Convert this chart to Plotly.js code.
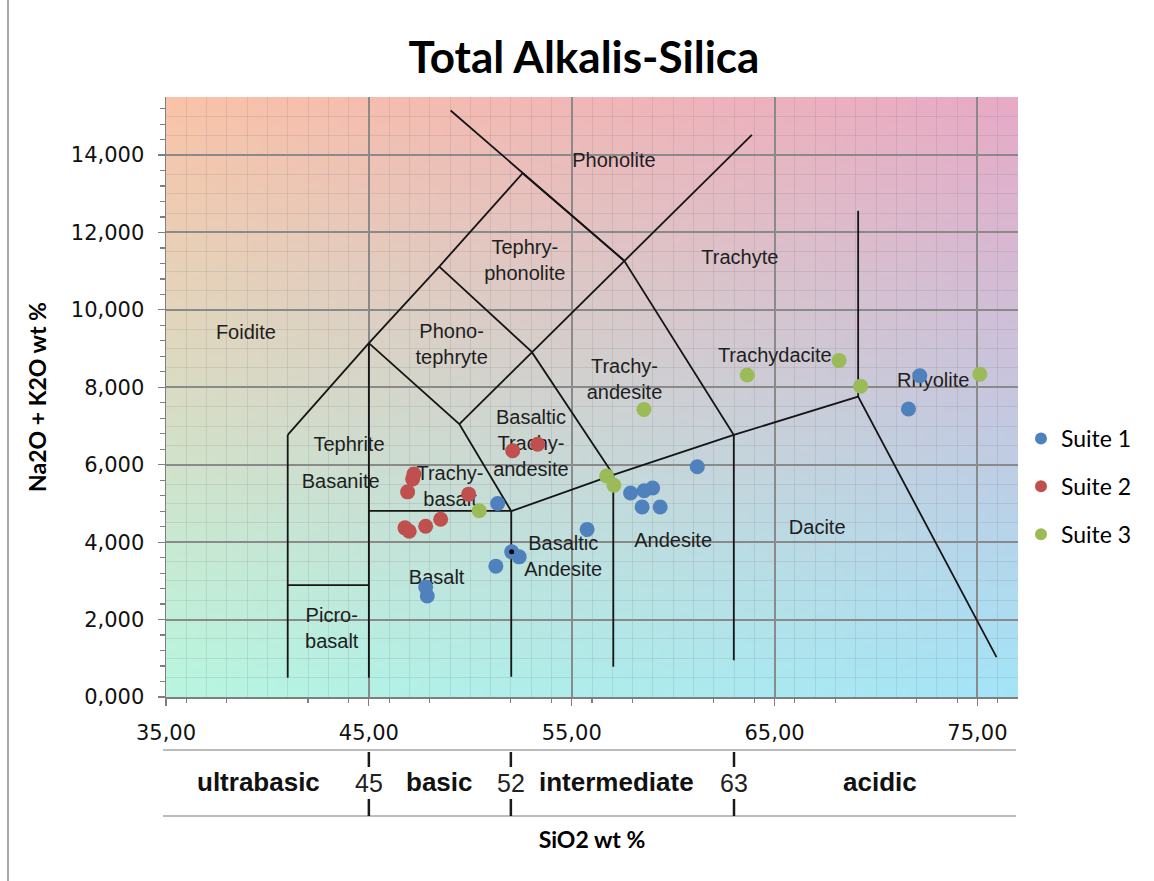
<!DOCTYPE html>
<html>
<head>
<meta charset="utf-8">
<script src="https://cdn.plot.ly/plotly-3.0.1.min.js"></script>
<style>
  html, body { margin: 0; padding: 0; background: #ffffff; }
  #chart { width: 1154px; height: 881px; }
</style>
</head>
<body>
<div id="chart"></div>
<script>
// ---- Sample analyses: SiO2 (wt %) vs Na2O + K2O (wt %) ----
const suite1Si = [51.35, 52.04, 52.41, 51.26, 47.80, 47.88, 55.76, 57.90, 58.57, 58.99, 58.47, 59.36, 61.19, 72.16, 71.60];
const suite1Alk = [5.00, 3.75, 3.62, 3.38, 2.84, 2.61, 4.33, 5.27, 5.33, 5.40, 4.91, 4.91, 5.95, 8.30, 7.44];

const suite2Si = [47.22, 47.16, 46.91, 49.92, 48.54, 47.80, 46.78, 46.99, 52.09, 53.32];
const suite2Alk = [5.76, 5.63, 5.30, 5.24, 4.59, 4.41, 4.37, 4.28, 6.36, 6.53];

const suite3Si = [50.44, 56.72, 57.08, 58.56, 63.65, 68.18, 69.24, 75.12];
const suite3Alk = [4.81, 5.71, 5.47, 7.43, 8.32, 8.69, 8.03, 8.34];

// small black marker sitting on one of the Suite 1 analyses
const markedSi = [52.04];
const markedAlk = [3.75];

const suiteNames = ['Suite 1', 'Suite 2', 'Suite 3'];
const suiteColors = ['#4F81BD', '#C0504D', '#9BBB59'];

// ---- TAS field boundaries (polylines, SiO2 / total alkalis) ----
const boundarySi = [
  [41, 41],
  [41, 45],
  [45, 45],
  [41, 45, 48.47, 52.58, 57.59],
  [49.03, 57.59, 62.99, 62.99],
  [48.47, 53.02, 57.05, 57.05],
  [45, 49.46, 52.02, 52.02],
  [45, 52.02],
  [49.46, 63.88],
  [52.02, 57.05, 62.99, 69.12, 75.94],
  [69.12, 69.12]
];
const boundaryAlk = [
  [0.5, 6.77],
  [2.89, 2.89],
  [0.5, 9.14],
  [6.77, 9.14, 11.12, 13.53, 11.27],
  [15.15, 11.27, 6.77, 0.95],
  [11.12, 8.92, 5.74, 0.78],
  [9.14, 7.05, 4.80, 0.52],
  [4.81, 4.81],
  [7.05, 14.52],
  [4.80, 5.74, 6.77, 7.76, 1.03],
  [7.76, 12.56]
];

// ---- Field names and where they sit ----
const fieldNames = ['Phonolite', 'Tephry-<br>phonolite', 'Trachyte', 'Foidite', 'Phono-<br>tephryte',
  'Trachy-<br>andesite', 'Trachydacite', 'Rhyolite', 'Tephrite', 'Basanite',
  'Basaltic<br>Trachy-<br>andesite', 'Trachy-<br>basalt', 'Basaltic<br>Andesite', 'Basalt',
  'Andesite', 'Dacite', 'Picro-<br>basalt'];
const fieldSi = [57.08, 52.69, 63.29, 38.94, 49.08, 57.60, 65.01, 72.82, 44.02, 43.61,
  52.99, 49.00, 54.58, 48.34, 60.00, 67.10, 43.17];
const fieldAlk = [13.82, 11.24, 11.31, 9.38, 9.07, 8.16, 8.79, 8.14, 6.49, 5.52,
  6.51, 5.39, 3.60, 3.06, 4.01, 4.35, 1.72];

// ---- Axis ticks ----
const xTickVals = [35, 45, 55, 65, 75];
const xTickText = ['35,00', '45,00', '55,00', '65,00', '75,00'];
const yTickVals = [0, 2, 4, 6, 8, 10, 12, 14];
const yTickText = ['0,000', '2,000', '4,000', '6,000', '8,000', '10,000', '12,000', '14,000'];

// ---- Silica classes shown under the axis ----
const silicaClasses = ['ultrabasic', 'basic', 'intermediate', 'acidic'];
const silicaBounds = [45, 52, 63];

const xRange = [35, 77];
const yRange = [0, 15.5];

// four-corner colour wash behind the diagram
function cornerWash(tl, tr, bl, br) {
  const n = 96;
  const c = document.createElement('canvas');
  c.width = n; c.height = n;
  const ctx = c.getContext('2d');
  const img = ctx.createImageData(n, n);
  for (let j = 0; j < n; j++) {
    const v = j / (n - 1);
    for (let i = 0; i < n; i++) {
      const u = i / (n - 1);
      const k = (j * n + i) * 4;
      for (let ch = 0; ch < 3; ch++) {
        const top = tl[ch] * (1 - u) + tr[ch] * u;
        const bot = bl[ch] * (1 - u) + br[ch] * u;
        img.data[k + ch] = Math.round(top * (1 - v) + bot * v);
      }
      img.data[k + 3] = 255;
    }
  }
  ctx.putImageData(img, 0, 0);
  return c.toDataURL('image/png');
}

const traces = [];

// field names (drawn first so the analyses sit on top)
traces.push({
  type: 'scatter', mode: 'text', x: fieldSi, y: fieldAlk, text: fieldNames,
  textposition: 'middle center',
  textfont: { family: 'Liberation Sans, Arial, sans-serif', size: 20, color: '#1e1e1e' },
  hoverinfo: 'skip', showlegend: false, cliponaxis: false
});

// field boundaries
boundarySi.forEach((xs, i) => {
  traces.push({
    type: 'scatter', mode: 'lines', x: xs, y: boundaryAlk[i],
    line: { color: '#151515', width: 1.8 },
    hoverinfo: 'skip', showlegend: false
  });
});

// analyses
const suiteSi = [suite1Si, suite2Si, suite3Si];
const suiteAlk = [suite1Alk, suite2Alk, suite3Alk];
suiteNames.forEach((name, i) => {
  traces.push({
    type: 'scatter', mode: 'markers', name: name, x: suiteSi[i], y: suiteAlk[i],
    legendgroup: 'g' + i,
    marker: { color: suiteColors[i], size: 15, line: { width: 0 } }
  });
});

traces.push({
  type: 'scatter', mode: 'markers', x: markedSi, y: markedAlk,
  marker: { color: '#000000', size: 5 }, showlegend: false, hoverinfo: 'skip'
});

// carrier for the minor-tick axes
traces.push({
  type: 'scatter', mode: 'markers', x: [xRange[0]], y: [yRange[0]], xaxis: 'x2', yaxis: 'y2',
  marker: { opacity: 0 }, showlegend: false, hoverinfo: 'skip'
});

const L = 166, R = 1018, T = 97, B = 697;
const plotW = R - L, plotH = B - T;
const py = p => (B - p) / plotH;   // pixel row -> paper y
const px = p => (p - L) / plotW;   // pixel column -> paper x

const shapes = [];
const annotations = [];

// strip rules
[750, 816].forEach(r => {
  shapes.push({ type: 'line', xref: 'paper', yref: 'paper', x0: px(163), x1: px(1016), y0: py(r), y1: py(r),
    line: { color: '#a6a6a6', width: 1.5 } });
});
silicaBounds.forEach(b => {
  shapes.push({ type: 'line', xref: 'x', yref: 'paper', x0: b, x1: b, y0: py(752), y1: py(767),
    line: { color: '#1a1a1a', width: 2.5 } });
  shapes.push({ type: 'line', xref: 'x', yref: 'paper', x0: b, x1: b, y0: py(799), y1: py(816),
    line: { color: '#1a1a1a', width: 2.5 } });
  annotations.push({ xref: 'x', yref: 'paper', x: b, y: py(783), text: String(b), showarrow: false,
    xanchor: 'center', yanchor: 'middle',
    font: { family: 'Liberation Sans, Arial, sans-serif', size: 25, color: '#222' } });
});
const edges = [xRange[0]].concat(silicaBounds, [xRange[1]]);
const classShift = [-0.45, 0, -0.3, 0.2];
silicaClasses.forEach((name, i) => {
  annotations.push({ xref: 'x', yref: 'paper', x: (edges[i] + edges[i + 1]) / 2 + classShift[i], y: py(782),
    text: '<b>' + name + '</b>', showarrow: false, xanchor: 'center', yanchor: 'middle',
    font: { family: 'Liberation Sans, Arial, sans-serif', size: 26, color: '#111' } });
});

// outer frame edge on the left
shapes.push({ type: 'line', xref: 'paper', yref: 'paper', x0: px(8), x1: px(8), y0: py(0), y1: py(881),
  line: { color: '#8c8c8c', width: 1.5 } });

const layout = {
  width: 1154, height: 881,
  margin: { l: L, r: 1154 - R, t: T, b: 881 - B },
  paper_bgcolor: '#ffffff',
  plot_bgcolor: 'rgba(0,0,0,0)',
  showlegend: true,
  title: {
    text: '<b>Total Alkalis-Silica</b>',
    font: { family: 'Lato, sans-serif', size: 44, color: '#000' },
    xref: 'container', yref: 'container', x: 584 / 1154, y: 1 - 58 / 881,
    xanchor: 'center', yanchor: 'middle'
  },
  xaxis: {
    range: xRange, tickvals: xTickVals, ticktext: xTickText,
    showgrid: true, gridcolor: '#8a8a8a', gridwidth: 2,
    showline: true, linecolor: '#7f7f7f', linewidth: 1.5,
    ticks: 'outside', ticklen: 7, tickcolor: '#7f7f7f', tickwidth: 1.2,
    ticklabelstandoff: 9,
    tickfont: { family: 'DejaVu Sans, sans-serif', size: 21, color: '#111' },
    zeroline: false, fixedrange: true,
    minor: { dtick: 1, showgrid: true, gridcolor: 'rgba(110,110,110,0.16)', gridwidth: 1, ticks: '' },
    title: { text: '<b>SiO2 wt %</b>', font: { family: 'Lato, sans-serif', size: 23, color: '#000' }, standoff: 88 }
  },
  yaxis: {
    range: yRange, tickvals: yTickVals, ticktext: yTickText,
    showgrid: true, gridcolor: '#8a8a8a', gridwidth: 2,
    showline: true, linecolor: '#7f7f7f', linewidth: 1.5,
    ticks: 'outside', ticklen: 7, tickcolor: '#7f7f7f', tickwidth: 1.2,
    ticklabelstandoff: 9,
    tickfont: { family: 'DejaVu Sans, sans-serif', size: 21, color: '#111' },
    zeroline: false, fixedrange: true,
    minor: { dtick: 0.5, showgrid: true, gridcolor: 'rgba(110,110,110,0.16)', gridwidth: 1, ticks: '' },
    title: { text: '<b>Na2O + K2O wt %</b>', font: { family: 'Lato, sans-serif', size: 23, color: '#000' }, standoff: 18 }
  },
  xaxis2: {
    overlaying: 'x', anchor: 'y2', side: 'bottom', range: xRange, showgrid: false, zeroline: false,
    showticklabels: false, ticks: '', dtick: 10, fixedrange: true,
    minor: { dtick: 2, ticks: 'outside', ticklen: 5, tickcolor: '#7f7f7f', tickwidth: 1.2, showgrid: false }
  },
  yaxis2: {
    overlaying: 'y', anchor: 'x2', side: 'left', range: yRange, showgrid: false, zeroline: false,
    showticklabels: false, ticks: '', dtick: 2, fixedrange: true,
    minor: { dtick: 0.4, ticks: 'outside', ticklen: 5, tickcolor: '#7f7f7f', tickwidth: 1.2, showgrid: false }
  },
  legend: {
    x: px(1021), y: py(417), xanchor: 'left', yanchor: 'top',
    bgcolor: 'rgba(0,0,0,0)', borderwidth: 0,
    font: { family: 'Lato, sans-serif', size: 23, color: '#000' },
    itemsizing: 'constant', tracegroupgap: 15
  },
  images: [{
    source: cornerWash([250, 195, 168], [232, 170, 198], [184, 246, 224], [164, 228, 248]),
    xref: 'x', yref: 'y', x: xRange[0], y: yRange[1], sizex: xRange[1] - xRange[0], sizey: yRange[1] - yRange[0],
    xanchor: 'left', yanchor: 'top', sizing: 'stretch', layer: 'below'
  }],
  shapes: shapes,
  annotations: annotations,
  hovermode: false
};

Plotly.newPlot('chart', traces, layout, { displayModeBar: false, staticPlot: true });
</script>
</body>
</html>
